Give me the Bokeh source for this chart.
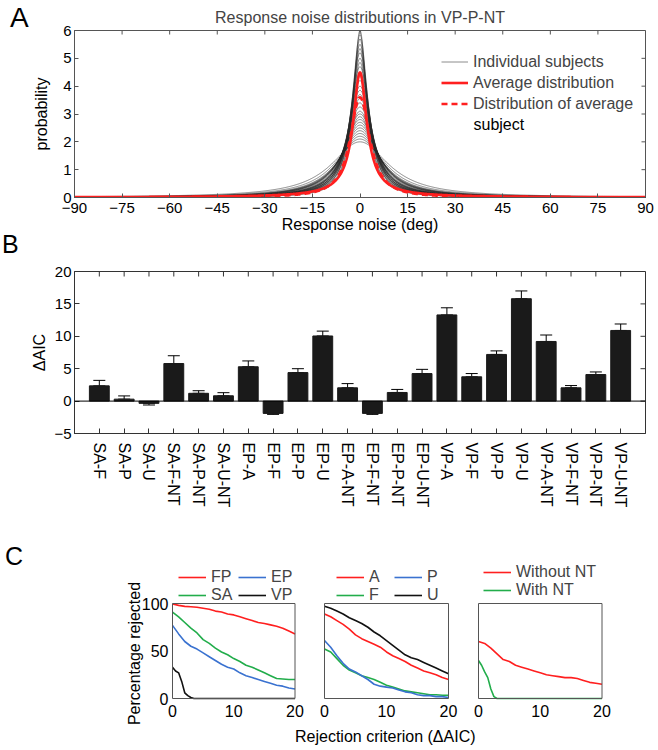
import numpy as np
from bokeh.plotting import figure
from bokeh.models import (Range1d, FixedTicker, Label, Legend, LegendItem, Div,
                          Span, Whisker, TeeHead, ColumnDataSource, CustomJSTickFormatter,
                          BoxAnnotation)
from bokeh.layouts import column
from bokeh.embed import file_html
from bokeh.resources import INLINE

FONT = "Liberation Sans"

# ---------------- Panel A data ----------------
noise_ticks = [-90, -75, -60, -45, -30, -15, 0, 15, 30, 45, 60, 75, 90]
prob_ticks = [0, 1, 2, 3, 4, 5, 6]
subject_peak = [6.0, 5.85, 5.7, 5.5, 5.35, 5.2, 5.0, 4.85, 4.7, 4.5, 4.35, 4.2, 4.0, 3.85, 3.7,
                3.55, 3.4, 3.25, 3.1, 3.0, 2.9, 2.8, 2.7, 2.6, 2.5, 2.4, 2.3, 2.2, 2.1, 2.0]
subject_width = [2.6, 3.0, 2.8, 3.3, 3.1, 3.5, 3.6, 3.4, 3.9, 4.0, 3.8, 4.4, 4.3, 4.7, 4.5,
                 5.1, 5.0, 5.5, 5.4, 6.0, 5.8, 6.5, 6.7, 7.0, 7.3, 7.6, 8.0, 8.5, 9.5, 11.0]
avg_peak, avg_width, avg_power = 4.5, 2.3, 0.8
avgsubj_peak, avgsubj_width, avgsubj_power = 3.6, 4.0, 1.1

# ---------------- Panel B data ----------------
models = ["SA-F", "SA-P", "SA-U", "SA-F-NT", "SA-P-NT", "SA-U-NT",
          "EP-A", "EP-F", "EP-P", "EP-U", "EP-A-NT", "EP-F-NT", "EP-P-NT", "EP-U-NT",
          "VP-A", "VP-F", "VP-P", "VP-U", "VP-A-NT", "VP-F-NT", "VP-P-NT", "VP-U-NT"]
delta_aic = [2.35, 0.3, -0.35, 5.8, 1.2, 0.82, 5.3, -1.9, 4.4, 10.05, 2.05, -1.9, 1.33, 4.25,
             13.3, 3.75, 7.2, 15.8, 9.2, 2.05, 4.1, 10.9]
delta_sem = [0.85, 0.5, 0.25, 1.2, 0.4, 0.48, 0.9, 0.15, 0.6, 0.75, 0.65, 0.15, 0.47, 0.65,
             1.1, 0.5, 0.55, 1.2, 1.0, 0.35, 0.4, 1.0]
aic_ticks = [-5, 0, 5, 10, 15, 20]

# ---------------- Panel C data ----------------
crit = list(range(21))
c_xticks = [0, 10, 20]
c_yticks = [0, 50, 100]
rej_FP = [99.5, 98, 97, 96.5, 96, 95, 94, 92, 91, 89, 88, 86, 84, 82, 80, 79, 77.5, 76, 74, 71, 68]
rej_SA = [91, 86, 80, 74, 69, 62, 58, 53, 49, 46, 42, 39, 35, 33, 30, 27, 24, 21, 20.5, 20, 20]
rej_EP = [77, 68, 60, 55, 52, 48, 44, 40, 36, 33, 31, 27, 24, 22, 20, 18, 16, 14, 13, 11, 10]
crit_VP = [0, 0.5, 1, 1.5, 2, 2.5, 3, 3.5, 20]
rej_VP = [33, 29, 27, 18, 6, 3, 1, 0, 0]
rej_A = [89, 86, 82, 78, 73, 67, 63, 60, 57, 54, 49, 45, 42, 39, 35, 32, 29, 27, 25, 22, 20]
rej_F = [52, 49, 42, 35, 30, 27, 24, 22, 20, 17, 14, 12, 10, 8, 7, 6, 5, 4, 4, 3.5, 3.5]
rej_P = [61, 54, 45, 37, 31, 28, 24, 20, 15, 13, 12, 11, 9, 7, 6, 4, 3, 3, 2, 2, 1]
rej_U = [97, 95, 92, 89, 85, 82, 79, 75, 70, 66, 61, 56, 51, 46, 43, 41, 38, 35, 32, 29, 26]
rej_noNT = [60, 58, 53, 47, 41, 39, 35, 33, 31, 29, 27, 25, 24, 23, 22, 22, 21, 19, 17, 16, 15]
crit_NT = [0, 0.5, 1, 1.5, 2, 2.5, 3, 20]
rej_NT = [40, 35, 28, 22, 10, 2, 0, 0]

RED = "#ff1f1f"
GREEN = "#22ad4b"
BLUE = "#3a72d0"
BLACK = "#111111"
FRAME = "#555555"

# ---------------- layout constants (pixels) ----------------
LEFT, FW, RIGHT = 74, 571, 10


def lbl(p, x, y, text, size="16px", angle=0.0, align="center", baseline="middle", **kw):
    p.add_layout(Label(x=x, y=y, x_units="screen", y_units="screen", text=text, angle=angle,
                       text_font=FONT, text_font_size=size, text_align=align,
                       text_baseline=baseline, text_color="black", **kw))


def style_axis(ax, ticks, size="15px", tin=4, standoff=4, color=FRAME):
    ax.ticker = FixedTicker(ticks=ticks)
    ax.major_tick_in = tin
    ax.major_tick_out = 0
    ax.minor_tick_line_color = None
    ax.axis_line_color = color
    ax.major_tick_line_color = color
    ax.major_label_text_font = FONT
    ax.major_label_text_color = "black"
    ax.major_label_text_font_size = size
    ax.major_label_standoff = standoff
    ax.axis_label_text_font = FONT
    ax.axis_label_text_font_size = "16px"
    ax.axis_label_text_font_style = "normal"
    ax.axis_label_text_color = "black"


def density(x, h, w, pw):
    return h / (1.0 + (x / w) ** 2) ** pw


def letter(ch, left, top, size):
    return Div(text=ch, width=40, height=40,
               styles={"position": "absolute", "left": f"{left}px", "top": f"{top}px",
                       "font-family": FONT, "font-size": f"{size}px", "line-height": "1",
                       "color": "black", "margin": "0", "padding": "0"})


# ======================= Panel A =======================
A_FH = 167
pA = figure(frame_width=FW, frame_height=A_FH, min_border_left=LEFT, min_border_right=RIGHT,
            min_border_top=30, min_border_bottom=39, x_range=Range1d(-90, 90),
            y_range=Range1d(0, 6), output_backend="svg", toolbar_location=None)
pA.grid.grid_line_color = None
pA.outline_line_color = FRAME
pA.title.text = "Response noise distributions in VP-P-NT"
pA.title.align = "center"
pA.title.text_font = FONT
pA.title.text_font_size = "16px"
pA.title.text_font_style = "normal"
pA.title.standoff = 10
style_axis(pA.xaxis[0], noise_ticks, standoff=5)
style_axis(pA.yaxis[0], prob_ticks, standoff=3)
pA.xaxis[0].axis_label = "Response noise (deg)"
pA.xaxis[0].axis_label_standoff = 0
pA.yaxis[0].axis_label = "probability"
pA.yaxis[0].axis_label_standoff = 10

# inward ticks on top and right edges of the box
tA_y = 4 * 6 / A_FH
tA_x = 4 * 180 / FW
pA.segment(x0=noise_ticks, x1=noise_ticks, y0=[6] * len(noise_ticks),
           y1=[6 - tA_y] * len(noise_ticks), line_color=FRAME, line_width=1)
pA.segment(x0=[90] * len(prob_ticks), x1=[90 - tA_x] * len(prob_ticks), y0=prob_ticks,
           y1=prob_ticks, line_color=FRAME, line_width=1)

xs = np.linspace(-90, 90, 1441)
ind_xs = [xs for _ in subject_peak]
ind_ys = [density(xs, h, w, 1.0) for h, w in zip(subject_peak, subject_width)]
r_ind = pA.multi_line(ind_xs, ind_ys, line_color="#2a2a2a", line_width=0.6, line_alpha=0.9)
r_avs = pA.line(xs, density(xs, avgsubj_peak, avgsubj_width, avgsubj_power), line_color=RED,
                line_width=2.6, line_dash="6 4")
r_avg = pA.line(xs, density(xs, avg_peak, avg_width, avg_power), line_color=RED, line_width=2.6)

legA = Legend(items=[LegendItem(label="Individual subjects", renderers=[r_ind]),
                     LegendItem(label="Average distribution", renderers=[r_avg]),
                     LegendItem(label="Distribution of average", renderers=[r_avs])],
              location=(367, 84), orientation="vertical", border_line_color=None,
              background_fill_alpha=0, padding=0, margin=0, spacing=2, label_height=19,
              glyph_height=19, glyph_width=27, label_standoff=5, label_text_font=FONT,
              label_text_font_size="16px")
pA.add_layout(legA)
lbl(pA, 399, 73, "subject", align="left")

# ======================= Panel B =======================
B_FH = 162
nb = len(models)
pos = list(range(1, nb + 1))
err_lo = [v - s if v < 0 else v for v, s in zip(delta_aic, delta_sem)]
err_hi = [v if v < 0 else v + s for v, s in zip(delta_aic, delta_sem)]
srcB = ColumnDataSource(dict(x=pos, val=delta_aic, lo=err_lo, hi=err_hi))

pB = figure(frame_width=FW, frame_height=B_FH, min_border_left=LEFT, min_border_right=RIGHT,
            min_border_top=35, min_border_bottom=83, x_range=Range1d(0, nb + 1),
            y_range=Range1d(-5, 20), output_backend="svg", toolbar_location=None)
pB.grid.grid_line_color = None
pB.outline_line_color = "#333333"
style_axis(pB.xaxis[0], pos, size="16px", standoff=9, color="#333333", tin=5)
pB.xaxis[0].formatter = CustomJSTickFormatter(args=dict(names=models),
                                              code="return names[Math.round(tick) - 1];")
pB.xaxis[0].major_label_orientation = "vertical"
style_axis(pB.yaxis[0], aic_ticks, standoff=3, color="#333333", tin=5)
pB.yaxis[0].axis_label = "\u0394AIC"
pB.yaxis[0].axis_label_standoff = 3

tB_y = 5 * 25 / B_FH
tB_x = 5 * (nb + 1) / FW
pB.segment(x0=pos, x1=pos, y0=[20] * nb, y1=[20 - tB_y] * nb, line_color="#333333")
pB.segment(x0=[nb + 1] * len(aic_ticks), x1=[nb + 1 - tB_x] * len(aic_ticks), y0=aic_ticks,
           y1=aic_ticks, line_color="#333333")

pB.vbar(x="x", top="val", bottom=0, width=0.8, fill_color="#1a1a1a", line_color="#1a1a1a",
        source=srcB)
pB.add_layout(Span(location=0, dimension="width", line_color="black", line_width=1))
pB.add_layout(Whisker(base="x", lower="lo", upper="hi", source=srcB, line_color="black",
                      line_width=1, upper_head=TeeHead(size=12, line_color="black", line_width=1),
                      lower_head=TeeHead(size=12, line_color="black", line_width=1)))

# ======================= Panel C =======================
C_TOP, C_FH = 40, 190          # frame covers the whole panel-C area
C_BOX_TOP, C_BOX_BOT = 47, 142  # box top/bottom, px from frame top
sub_left = [98, 250, 404]       # box left edges, px from frame left
sub_width = [122.5, 124, 123.5]


def sub_range(k):
    start = -sub_left[k] / sub_width[k] * 20.0
    end = (FW - sub_left[k]) / sub_width[k] * 20.0
    return start, end


ppu_y = (C_BOX_BOT - C_BOX_TOP) / 100.0
cy0 = -(C_FH - C_BOX_BOT) / ppu_y
cy1 = 100 + C_BOX_TOP / ppu_y

pC = figure(frame_width=FW, frame_height=C_FH, min_border_left=LEFT, min_border_right=RIGHT,
            min_border_top=C_TOP, min_border_bottom=0, x_range=Range1d(*sub_range(0)),
            y_range=Range1d(cy0, cy1), output_backend="svg", toolbar_location=None)
pC.extra_x_ranges = {"c2": Range1d(*sub_range(1)), "c3": Range1d(*sub_range(2))}
pC.grid.grid_line_color = None
pC.outline_line_color = None
pC.xaxis.visible = False
pC.yaxis.visible = False

for name in ["default", "c2", "c3"]:
    pC.add_layout(BoxAnnotation(left=0, right=20, bottom=0, top=100, x_range_name=name,
                                fill_alpha=0, line_color=FRAME, line_alpha=1, line_width=1))
    for t in c_xticks:
        pC.add_layout(Label(x=t, y=0, y_offset=-6, x_range_name=name, text=str(t),
                            text_font=FONT, text_font_size="16px", text_align="center",
                            text_baseline="top", text_color="black"))
for t in c_yticks:
    pC.add_layout(Label(x=0, y=t, x_offset=-4, text=str(t), text_font=FONT,
                        text_font_size="16px", text_align="right", text_baseline="middle",
                        text_color="black"))

lw = 1.6
r_fp = pC.line(crit, rej_FP, line_color=RED, line_width=lw)
r_sa = pC.line(crit, rej_SA, line_color=GREEN, line_width=lw)
r_ep = pC.line(crit, rej_EP, line_color=BLUE, line_width=lw)
r_vp = pC.line(crit_VP, rej_VP, line_color=BLACK, line_width=lw)
r_f = pC.line(crit, rej_F, line_color=GREEN, line_width=lw, x_range_name="c2")
r_p = pC.line(crit, rej_P, line_color=BLUE, line_width=lw, x_range_name="c2")
r_a = pC.line(crit, rej_A, line_color=RED, line_width=lw, x_range_name="c2")
r_u = pC.line(crit, rej_U, line_color=BLACK, line_width=lw, x_range_name="c2")
r_non = pC.line(crit, rej_noNT, line_color=RED, line_width=lw, x_range_name="c3")
r_nt = pC.line(crit_NT, rej_NT, line_color=GREEN, line_width=lw, x_range_name="c3")

legkw = dict(border_line_color=None, background_fill_alpha=0, padding=0, margin=0,
             label_height=16, glyph_height=16, glyph_width=28, label_standoff=5,
             label_text_font=FONT, label_text_font_size="16px", label_width=22)


def add_leg(items, loc, orient="horizontal", spacing=5):
    pC.add_layout(Legend(items=[LegendItem(label=l, renderers=[r]) for l, r in items],
                         location=loc, orientation=orient, spacing=spacing, **legkw))


add_leg([("FP", r_fp), ("EP", r_ep)], (104, 160))
add_leg([("SA", r_sa), ("VP", r_vp)], (104, 142))
add_leg([("A", r_a), ("P", r_p)], (262, 160), spacing=3)
add_leg([("F", r_f), ("U", r_u)], (262, 142), spacing=3)
add_leg([("Without NT", r_non), ("With NT", r_nt)], (409, 147), orient="vertical", spacing=0)

lbl(pC, 60, 93, "Percentage rejected", angle=np.pi / 2)
lbl(pC, 313, 10, "Rejection criterion  (\u0394AIC)")

layout = column(pA, pB, pC, letter("A", 10, 4, 28), letter("B", 2, 232, 25),
                letter("C", 5, 544, 25), spacing=0)
open("out.html", "w").write(file_html(layout, INLINE))
